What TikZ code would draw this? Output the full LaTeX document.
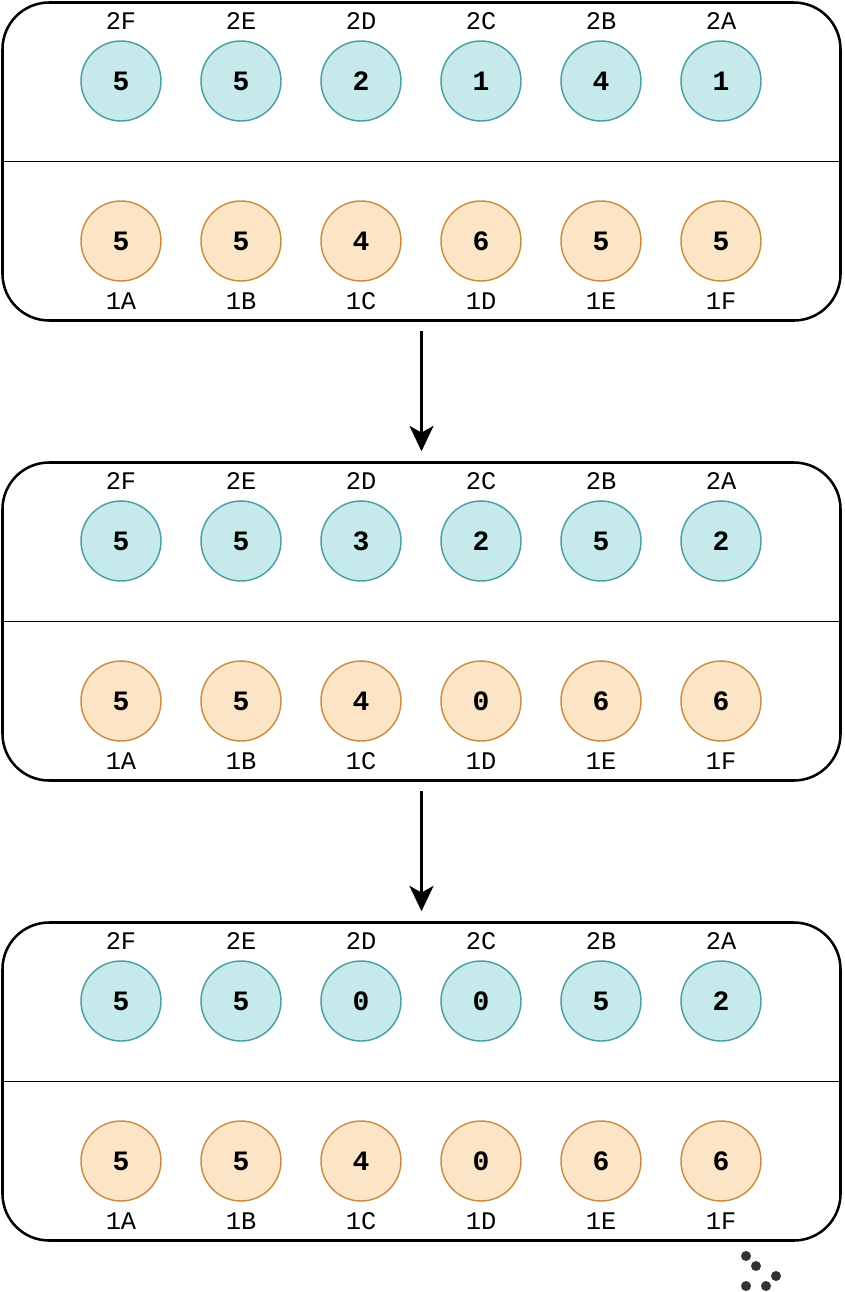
\documentclass[tikz,border=0pt]{standalone}
\usepackage{fontspec}
\setmonofont{Liberation Mono}
\usetikzlibrary{arrows.meta}
\definecolor{tealfill}{RGB}{198,233,235}
\definecolor{tealline}{RGB}{74,160,165}
\definecolor{orfill}{RGB}{252,228,198}
\definecolor{orline}{RGB}{204,140,66}
\definecolor{dotc}{RGB}{51,51,51}
\tikzset{
  panel/.style={draw=black, line width=1.9pt, rounded corners=35pt, minimum width=628.5pt, minimum height=238.5pt, inner sep=0pt},
  divider/.style={draw=black, line width=1.2pt},
  numcirc/.style={circle, minimum size=60pt, inner sep=0pt, line width=1.1pt, font=\ttfamily\bfseries\fontsize{21}{21}\selectfont},
  tcirc/.style={numcirc, draw=tealline, fill=tealfill},
  ocirc/.style={numcirc, draw=orline, fill=orfill},
  lab/.style={inner sep=0pt, font=\ttfamily\fontsize{19}{19}\selectfont},
  arr/.style={-{Stealth[length=19pt,width=18pt,inset=5pt]}, line width=2.2pt, shorten <=7pt, shorten >=7.5pt},
  dotn/.style={circle, fill=dotc, minimum size=7.5pt, inner sep=0pt}
}
\newcommand\drawpanel[4]{%
  \node[panel] (#1) at (421.5,#2) {};
  \draw[divider] (#1.west) -- (#1.east);
  \foreach \v/\l [count=\i] in {#3} {
    \node[tcirc] (#1-t\i) at ({1+120*\i},{#2-80.5}) {\v};
    \node[lab] (#1-tl\i) at ({1+120*\i},{#2-140.5}) {\l};
  }
  \foreach \v/\l [count=\i] in {#4} {
    \node[ocirc] (#1-b\i) at ({1+120*\i},{#2+79.5}) {\v};
    \node[lab] (#1-bl\i) at ({1+120*\i},{#2+139.5}) {\l};
  }
}
\begin{document}
\begin{tikzpicture}[x=0.75pt,y=-0.75pt]
\useasboundingbox (0,0) rectangle (844,1292);
\drawpanel{box1}{161.5}{5/2F,5/2E,2/2D,1/2C,4/2B,1/2A}{5/1A,5/1B,4/1C,6/1D,5/1E,5/1F}
\drawpanel{box2}{621.5}{5/2F,5/2E,3/2D,2/2C,5/2B,2/2A}{5/1A,5/1B,4/1C,0/1D,6/1E,6/1F}
\drawpanel{box3}{1081.5}{5/2F,5/2E,0/2D,0/2C,5/2B,2/2A}{5/1A,5/1B,4/1C,0/1D,6/1E,6/1F}
\draw[arr] (box1.south) -- (box2.north);
\draw[arr] (box2.south) -- (box3.north);
\node[dotn] (d1) at (746,1256) {};
\node[dotn] (d2) at (756,1266) {};
\node[dotn] (d3) at (776,1276) {};
\node[dotn] (d4) at (746,1286) {};
\node[dotn] (d5) at (766,1286) {};
\end{tikzpicture}
\end{document}
